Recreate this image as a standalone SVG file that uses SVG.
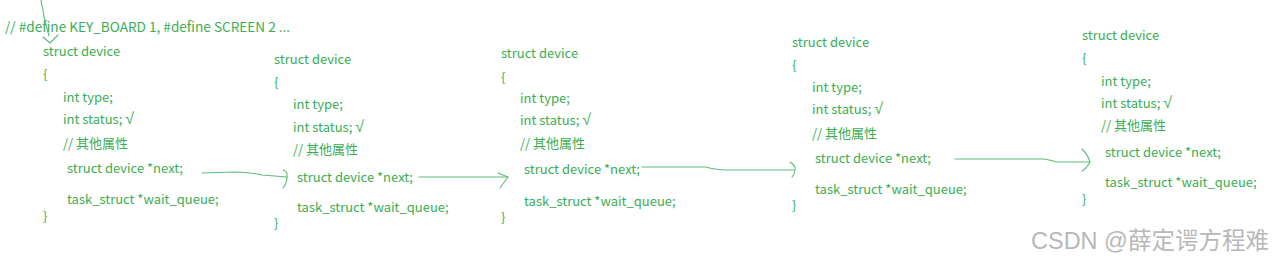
<svg xmlns="http://www.w3.org/2000/svg" width="1273" height="261" viewBox="0 0 1273 261">
<style>
  .t { font-family: "Noto Sans CJK SC", "Liberation Sans", sans-serif; font-size: 13px; fill: #3aae55; }
  .ck { font-family: "Liberation Sans", "DejaVu Sans", sans-serif; font-size: 16px; }
  .c { fill: none; stroke: #5cbb78; stroke-width: 1.1; stroke-linecap: round; stroke-linejoin: round; }
  .wm { font-family: "Liberation Sans", "Noto Sans CJK SC", sans-serif; font-size: 23.5px; fill: #b8b8b8; }
</style>
<rect width="1273" height="261" fill="#ffffff"/>

<g id="define">
  <text class="t" x="5" y="32" style="font-size:13.6px">// #define KEY_BOARD 1, #define SCREEN 2 ...</text>
</g>

<g id="dev1">
  <text class="t" x="43" y="56">struct device</text>
  <text class="t" x="43" y="79">{</text>
  <text class="t" x="63" y="102">int type;</text>
  <text class="t" x="63" y="124">int status; <tspan class="ck">√</tspan></text>
  <text class="t" x="63" y="148">// 其他属性</text>
  <text class="t" x="67" y="173">struct device *next;</text>
  <text class="t" x="67" y="204">task_struct *wait_queue;</text>
  <text class="t" x="43" y="221">}</text>
</g>

<g id="dev2">
  <text class="t" x="274" y="64">struct device</text>
  <text class="t" x="274" y="87">{</text>
  <text class="t" x="293" y="109">int type;</text>
  <text class="t" x="293" y="132">int status; <tspan class="ck">√</tspan></text>
  <text class="t" x="293" y="154">// 其他属性</text>
  <text class="t" x="297" y="182">struct device *next;</text>
  <text class="t" x="297" y="212">task_struct *wait_queue;</text>
  <text class="t" x="274" y="228">}</text>
</g>

<g id="dev3">
  <text class="t" x="501" y="58">struct device</text>
  <text class="t" x="501" y="82">{</text>
  <text class="t" x="520" y="103">int type;</text>
  <text class="t" x="520" y="125">int status; <tspan class="ck">√</tspan></text>
  <text class="t" x="520" y="148">// 其他属性</text>
  <text class="t" x="524" y="174">struct device *next;</text>
  <text class="t" x="524" y="206">task_struct *wait_queue;</text>
  <text class="t" x="501" y="222">}</text>
</g>

<g id="dev4">
  <text class="t" x="792" y="47">struct device</text>
  <text class="t" x="792" y="70">{</text>
  <text class="t" x="812" y="92">int type;</text>
  <text class="t" x="812" y="114">int status; <tspan class="ck">√</tspan></text>
  <text class="t" x="812" y="138">// 其他属性</text>
  <text class="t" x="815" y="163">struct device *next;</text>
  <text class="t" x="815" y="194">task_struct *wait_queue;</text>
  <text class="t" x="792" y="210">}</text>
</g>

<g id="dev5">
  <text class="t" x="1082" y="40">struct device</text>
  <text class="t" x="1082" y="63">{</text>
  <text class="t" x="1101" y="86">int type;</text>
  <text class="t" x="1101" y="108">int status; <tspan class="ck">√</tspan></text>
  <text class="t" x="1101" y="130">// 其他属性</text>
  <text class="t" x="1105" y="157">struct device *next;</text>
  <text class="t" x="1105" y="187">task_struct *wait_queue;</text>
  <text class="t" x="1082" y="204">}</text>
</g>

<g id="connectors">
  <path class="c" d="M41,0 C43,14 46,26 49,36"/>
  <path class="c" d="M43,37 L50,43 L58,35"/>

  <path class="c" d="M202,173 L235,172 Q255,173 262,175 L287,177"/>
  <path class="c" d="M283,170 Q288,171 287,177 Q287,183 283,188"/>

  <path class="c" d="M419,177 L508,177"/>
  <path class="c" d="M498,173 L508,177 L500,188"/>

  <path class="c" d="M642,167 L706,167 Q712,169 724,170 L794,170"/>
  <path class="c" d="M790,162 Q796,166 795,170 Q795,174 792,177"/>

  <path class="c" d="M955,159 L1044,159 Q1050,160 1057,162 L1090,162"/>
  <path class="c" d="M1082,149 Q1088,155 1090,162 Q1087,168 1082,171"/>
</g>

<g id="watermark">
  <text class="wm" x="1031" y="249">CSDN @薛定谔方程难</text>
</g>
</svg>
